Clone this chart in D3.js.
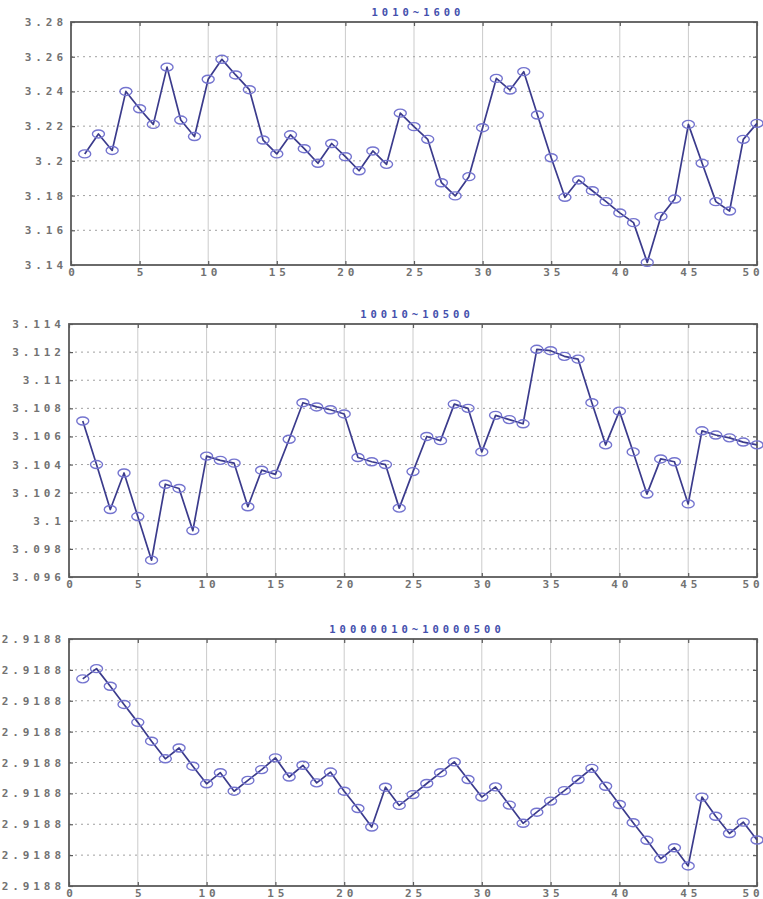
<!DOCTYPE html>
<html>
<head>
<meta charset="utf-8">
<script src="https://cdn.jsdelivr.net/npm/d3@7"></script>
<style>
  html, body { margin: 0; padding: 0; background: #fff; }
  svg { display: block; }
</style>
</head>
<body>
<svg id="chart" width="763" height="899"></svg>
<script>
// ---- data ----
const xIndex = d3.range(1, 51);
const xTicks = [0, 5, 10, 15, 20, 25, 30, 35, 40, 45, 50];

const titles = ["1010~1600", "10010~10500", "10000010~10000500"];

const series1 = [3.204, 3.2155, 3.206, 3.240, 3.230, 3.221, 3.254, 3.2235, 3.214, 3.247,
  3.2585, 3.2495, 3.241, 3.212, 3.204, 3.215, 3.207, 3.1986, 3.210, 3.2024,
  3.1943, 3.2057, 3.198, 3.2275, 3.2197, 3.2124, 3.1874, 3.1798, 3.1909, 3.2191,
  3.2475, 3.2408, 3.2514, 3.2264, 3.2018, 3.179, 3.189, 3.1828, 3.1765, 3.170,
  3.1644, 3.1415, 3.168, 3.178, 3.221, 3.1986, 3.1765, 3.1711, 3.2124, 3.2216];

const series2 = [3.1071, 3.104, 3.1008, 3.1034, 3.1003, 3.0972, 3.1026, 3.1023, 3.0993, 3.1046,
  3.1043, 3.1041, 3.101, 3.1036, 3.1033, 3.1058, 3.1084, 3.1081, 3.1079, 3.1076,
  3.1045, 3.1042, 3.104, 3.1009, 3.1035, 3.106, 3.1057, 3.1083, 3.108, 3.1049,
  3.1075, 3.1072, 3.1069, 3.1122, 3.1121, 3.1117, 3.1115, 3.1084, 3.1054, 3.1078,
  3.1049, 3.1019, 3.1044, 3.1042, 3.1012, 3.1064, 3.1061, 3.1059, 3.1056, 3.1054];

const series3 = [2.9188271, 2.9188304, 2.9188247, 2.9188188, 2.9188130, 2.9188069, 2.9188012, 2.9188047, 2.9187988, 2.9187931,
  2.9187967, 2.9187907, 2.9187942, 2.9187977, 2.9188015, 2.9187953, 2.9187991, 2.9187934, 2.9187969, 2.9187907,
  2.9187851, 2.9187791, 2.9187920, 2.9187861, 2.9187896, 2.9187932, 2.9187967, 2.9188002, 2.9187945, 2.9187888,
  2.9187921, 2.9187862, 2.9187803, 2.9187839, 2.9187875, 2.9187909, 2.9187945, 2.9187981, 2.9187923, 2.9187864,
  2.9187805, 2.9187748, 2.9187688, 2.9187724, 2.9187665, 2.9187888, 2.9187826, 2.9187770, 2.9187807, 2.9187749];

const yTicks1 = [3.14, 3.16, 3.18, 3.20, 3.22, 3.24, 3.26, 3.28];
const yLabels1 = ["3.14", "3.16", "3.18", "3.2", "3.22", "3.24", "3.26", "3.28"];

const yTicks2 = [3.096, 3.098, 3.100, 3.102, 3.104, 3.106, 3.108, 3.110, 3.112, 3.114];
const yLabels2 = ["3.096", "3.098", "3.1", "3.102", "3.104", "3.106", "3.108", "3.11", "3.112", "3.114"];

const yTicks3 = [2.91876, 2.91877, 2.91878, 2.91879, 2.91880, 2.91881, 2.91882, 2.91883, 2.91884];
const yLabels3 = ["2.9188", "2.9188", "2.9188", "2.9188", "2.9188", "2.9188", "2.9188", "2.9188", "2.9188"];

// ---- layout ----
const panels = [
  { title: titles[0], values: series1, ticks: yTicks1, labels: yLabels1, left: 71, right: 757, top: 22, bottom: 265 },
  { title: titles[1], values: series2, ticks: yTicks2, labels: yLabels2, left: 69, right: 757, top: 324, bottom: 577 },
  { title: titles[2], values: series3, ticks: yTicks3, labels: yLabels3, left: 69, right: 757, top: 639, bottom: 886 }
];

const svg = d3.select("#chart");
const monoFam = "'DejaVu Sans Mono', 'Liberation Mono', monospace";
const labelColor = "#727272";
const axisColor = "#5a5a5a";
const lineColor = "#3b3b8c";
const markerColor = "#7474cf";
const titleColor = "#4450ad";
const LS = 3.9; // letter spacing of tick labels
const W = 763;

panels.forEach(p => {
  const x = d3.scaleLinear().domain([0, 50]).range([p.left, p.right]);
  const y = d3.scaleLinear().domain([p.ticks[0], p.ticks[p.ticks.length - 1]]).range([p.bottom, p.top]);
  const g = svg.append("g");

  // vertical grid
  g.append("g").selectAll("line").data(xTicks.slice(1, -1)).join("line")
    .attr("x1", d => x(d)).attr("x2", d => x(d))
    .attr("y1", p.top).attr("y2", p.bottom)
    .attr("stroke", "#cbcbcb").attr("stroke-width", 1);

  // horizontal grid (dotted)
  g.append("g").selectAll("line").data(p.ticks.slice(1, -1)).join("line")
    .attr("x1", p.left).attr("x2", p.right)
    .attr("y1", d => y(d)).attr("y2", d => y(d))
    .attr("stroke", "#a0a0a0").attr("stroke-width", 1)
    .attr("stroke-dasharray", "2,4");

  // axes
  const xAxis = d3.axisBottom(x).tickValues(xTicks).tickSize(-4).tickPadding(5).tickFormat(d3.format("d"));
  const xAxisTop = d3.axisTop(x).tickValues(xTicks).tickSize(-4).tickFormat("");
  const yAxis = d3.axisLeft(y).tickValues(p.ticks).tickSize(-4).tickPadding(8)
    .tickFormat((d, i) => p.labels[i]);
  const yAxisRight = d3.axisRight(y).tickValues(p.ticks).tickSize(-4).tickFormat("");

  const gx = g.append("g").attr("transform", `translate(0,${p.bottom})`).call(xAxis);
  const gxt = g.append("g").attr("transform", `translate(0,${p.top})`).call(xAxisTop);
  const gy = g.append("g").attr("transform", `translate(${p.left},0)`).call(yAxis);
  const gyr = g.append("g").attr("transform", `translate(${p.right},0)`).call(yAxisRight);

  [gx, gxt, gy, gyr].forEach(a => {
    a.select(".domain").remove();
    a.selectAll(".tick line").attr("stroke", axisColor).attr("stroke-width", 1.2);
  });

  const lastIdx = xTicks.length - 1;
  gx.selectAll(".tick text")
    .attr("font-family", monoFam).attr("font-size", 11).attr("font-weight", "bold")
    .attr("fill", labelColor).attr("letter-spacing", LS)
    .attr("text-anchor", (d, i) => i === lastIdx ? "end" : "middle")
    .attr("dx", (d, i) => i === lastIdx ? (W - p.right) : LS / 2)
    .attr("dy", "0.5em");
  gy.selectAll(".tick text")
    .attr("font-family", monoFam).attr("font-size", 11).attr("font-weight", "bold")
    .attr("fill", labelColor).attr("letter-spacing", LS)
    .attr("dx", LS);

  // box
  g.append("rect")
    .attr("x", p.left).attr("y", p.top)
    .attr("width", p.right - p.left).attr("height", p.bottom - p.top)
    .attr("fill", "none").attr("stroke", axisColor).attr("stroke-width", 1.8);

  // title
  g.append("text")
    .attr("x", (p.left + p.right) / 2 + 2).attr("y", p.top - 6)
    .attr("text-anchor", "middle").attr("dx", 2)
    .attr("font-family", monoFam).attr("font-size", 10.5).attr("font-weight", "bold")
    .attr("letter-spacing", 4)
    .attr("fill", titleColor)
    .text(p.title);

  // line
  const line = d3.line().x((d, i) => x(xIndex[i])).y(d => y(d));
  g.append("path").datum(p.values)
    .attr("d", line)
    .attr("fill", "none").attr("stroke", lineColor).attr("stroke-width", 1.7)
    .attr("stroke-linejoin", "round");

  // markers
  g.append("g").selectAll("ellipse").data(p.values).join("ellipse")
    .attr("cx", (d, i) => x(xIndex[i])).attr("cy", d => y(d))
    .attr("rx", 6).attr("ry", 4)
    .attr("fill", "none").attr("stroke", markerColor).attr("stroke-width", 1.4);
});
</script>
</body>
</html>
